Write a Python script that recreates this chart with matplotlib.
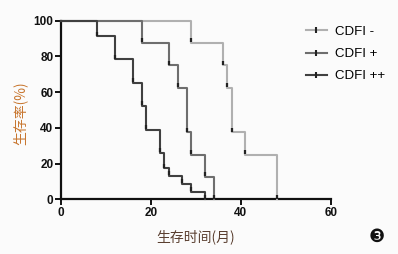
import matplotlib
matplotlib.use("Agg")
import matplotlib.pyplot as plt
from matplotlib.lines import Line2D

# Data (Kaplan-Meier steps)
groups = ["CDFI -", "CDFI +", "CDFI ++"]
t_neg = [0, 29, 36, 37, 38, 41, 48]
s_neg = [100, 87.5, 75, 62.5, 37.5, 25, 0]
t_pos = [0, 18, 24, 26, 28, 29, 32, 34]
s_pos = [100, 87.5, 75, 62.5, 37.5, 25, 12.5, 0]
t_pp = [0, 8, 12, 16, 18, 19, 22, 23, 24, 27, 29, 32]
s_pp = [100, 91.3, 78.3, 65.2, 52.2, 39.1, 26.1, 17.4, 13.0, 8.7, 4.3, 0]

xticks = [0, 20, 40, 60]
yticks = [0, 20, 40, 60, 80, 100]

colors = ["#b0b0b0", "#6e6e6e", "#404040"]

plt.rcParams['font.family'] = ['Liberation Sans', 'DejaVu Sans']
fig = plt.figure(figsize=(3.98, 2.54), dpi=100)
fig.patch.set_facecolor("#fbfbfb")
ax = fig.add_axes([0.153, 0.215, 0.678, 0.7035])
ax.set_facecolor("#fbfbfb")

series = [(t_neg, s_neg), (t_pos, s_pos), (t_pp, s_pp)]
for (t, s), c, lab in zip(series, colors, groups):
    ax.step(t, s, where="post", color=c, lw=1.5, zorder=3, clip_on=False)
    # tick marks at step corners
    ax.plot(t[1:-1], [v + 1.5 for v in s[1:-1]], linestyle="none", marker="|",
            markersize=3.5, markeredgewidth=1.6, color="#222222", zorder=4, clip_on=False)
    ax.plot([t[-1]], [1.5], linestyle="none", marker="|", markersize=3.5,
            markeredgewidth=1.6, color="#222222", zorder=4, clip_on=False)

ax.set_xlim(0, 60)
ax.set_ylim(0, 100)
ax.set_xticks(xticks)
ax.set_yticks(yticks)
for sp in ["top", "right"]:
    ax.spines[sp].set_visible(False)
for sp in ["left", "bottom"]:
    ax.spines[sp].set_linewidth(1.6)
    ax.spines[sp].set_color("#111111")
ax.tick_params(direction="out", length=4, width=1.4, colors="#111111", pad=1.5)
for lbl in ax.get_xticklabels() + ax.get_yticklabels():
    lbl.set_fontsize(8.5)
    lbl.set_fontweight("bold")

handles = [Line2D([0], [0], color=c, lw=1.5, marker="|", markersize=4,
                  markeredgewidth=1.5, markeredgecolor="#222222") for c in colors]
leg = fig.legend(handles, groups, loc="upper left", bbox_to_anchor=(0.738, 0.945),
                 frameon=False, fontsize=9.5, handlelength=1.6, handletextpad=0.6,
                 labelspacing=0.75)

fig.text(0.05, 0.555, "生存率(%)", rotation=90, ha="center", va="center",
         fontsize=10, color="#c8762f", family=['Noto Sans CJK SC', 'DejaVu Sans'])
fig.text(0.492, 0.067, "生存时间(月)", ha="center", va="center",
         fontsize=10, color="#5a3f30", family=['Noto Sans CJK SC', 'DejaVu Sans'])
fig.text(0.947, 0.067, "❸", ha="center", va="center", fontsize=13,
         color="#111111", family=['DejaVu Sans'])

fig.savefig("out.png", dpi=100, facecolor=fig.get_facecolor())
